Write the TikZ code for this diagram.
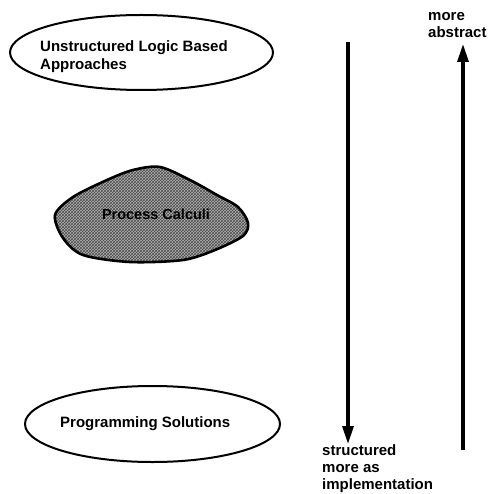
\documentclass[tikz,border=0pt]{standalone}
\usepackage{fontspec}
\setmainfont{Liberation Sans}
\usetikzlibrary{arrows.meta,patterns}
\begin{document}
\begin{tikzpicture}[x=1pt,y=-1pt,
  oval/.style={draw=black,line width=2pt},
  lbl/.style={font=\bfseries\fontsize{15}{17}\selectfont,align=left,inner sep=0pt},
  axis/.style={line width=3.2pt,-{Triangle[width=11pt,length=18pt]}}]
\useasboundingbox (0,0) rectangle (489,494);
% ellipses
\draw[oval] (141.5,52.5) ellipse [x radius=131.5,y radius=37.5];
\node[lbl,font=\bfseries\fontsize{15}{18}\selectfont,anchor=north west] (top) at (40,40) {Unstructured Logic Based\\Approaches};
\draw[oval] (152.5,424) ellipse [x radius=127.5,y radius=38];
\node[lbl,anchor=west] (bot) at (60,424) {Programming Solutions};
% cloud
\def\cloudpath{plot[smooth cycle,tension=0.5] coordinates {
 (55,215) (73,197) (107,180) (133,170) (160,167) (190,180) (217,195)
 (238,207) (248,223) (243,236) (215,250) (183,260) (130,262)
 (83,255) (63,238)}}
\fill[black!30] \cloudpath;
\fill[pattern=crosshatch,pattern color=black!70] \cloudpath;
\draw[line width=2.6pt] \cloudpath;
\node[lbl,font=\bfseries\fontsize{14.5}{17}\selectfont,anchor=center] (pc) at (156,214) {Process Calculi};
% axes
\coordinate (dtop) at (348,42);
\coordinate (dbot) at (348,444);
\node[lbl,anchor=north west] (impl) at (322,444) {structured\\more as\\implementation};
\draw[axis] (dtop) -- (dbot);
\coordinate (ubot) at (463,450);
\coordinate (utop) at (463,44);
\node[lbl,anchor=north west] (abs) at (428,12) {more\\abstract};
\draw[axis] (ubot) -- (utop);
\end{tikzpicture}
\end{document}
